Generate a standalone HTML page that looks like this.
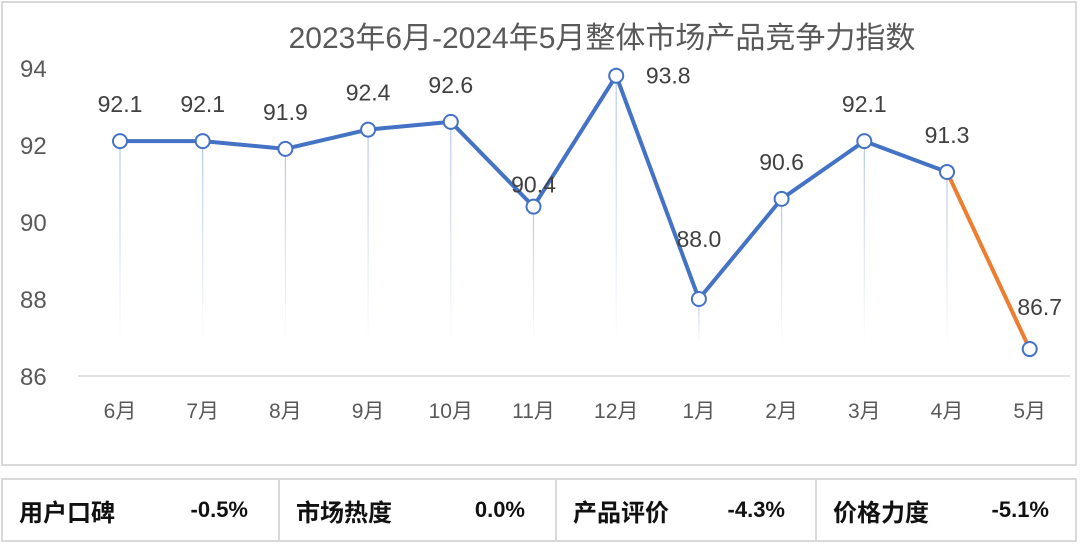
<!DOCTYPE html>
<html><head><meta charset="utf-8"><style>
body{margin:0;width:1080px;height:544px;background:#fff;overflow:hidden;font-family:"Liberation Sans","Noto Sans CJK SC",sans-serif}
#chart{position:absolute;left:1px;top:1px;width:1076px;height:465px;border:2px solid #d9d9d9;box-sizing:border-box}
#tbl{position:absolute;left:1px;top:478px;width:1076px;height:64px;border:2px solid #d9d9d9;box-sizing:border-box;display:flex}
.cell{flex:none;height:100%;border-right:2px solid #d9d9d9;box-sizing:border-box;display:flex;align-items:center;justify-content:space-between;padding:0 30px 0 16px;font-weight:bold;font-size:24px;color:#111}
.cell:last-child{border-right:none}
.v{font-size:22px}
</style></head><body>
<svg id="svg" width="1080" height="544" style="position:absolute;left:0;top:0">
<defs><linearGradient id="dg" x1="0" y1="0" x2="0" y2="1"><stop offset="0" stop-color="#b4c7e7"/><stop offset="1" stop-color="#b4c7e7" stop-opacity="0"/></linearGradient></defs>
</svg>
<div id="chart"></div>
<div id="tbl">
<div class="cell" style="width:277px"><span>用户口碑</span><span class="v">-0.5%</span></div>
<div class="cell" style="width:277px"><span>市场热度</span><span class="v">0.0%</span></div>
<div class="cell" style="width:260px"><span>产品评价</span><span class="v">-4.3%</span></div>
<div class="cell" style="width:262px"><span>价格力度</span><span class="v">-5.1%</span></div>
</div>
<script>
const categories=["6月","7月","8月","9月","10月","11月","12月","1月","2月","3月","4月","5月"];
const values=[92.1,92.1,91.9,92.4,92.6,90.4,93.8,88.0,90.6,92.1,91.3,86.7];
const yTicks=[86,88,90,92,94];
const labelDy=[-37,-37,-37,-37,-37,-22,0,-60,-37,-37,-37,-42];
const labelDx=[0,0,0,0,0,0,52,0,0,0,0,10];
const NS="http://www.w3.org/2000/svg";
const svg=document.getElementById('svg');
const x=i=>120+i*82.7;
const y=v=>376-(v-86)*38.5;
function mk(t,a){const e=document.createElementNS(NS,t);for(const k in a)e.setAttribute(k,a[k]);svg.appendChild(e);return e;}
const title=mk('text',{x:602,y:48,'text-anchor':'middle','font-size':30,fill:'#595959'});
title.textContent="2023年6月-2024年5月整体市场产品竞争力指数";


const ax=mk('line',{x1:78,x2:1070,y1:y(86),y2:y(86),stroke:'#d9d9d9','stroke-width':1.5});


yTicks.forEach(t=>{const e=mk('text',{x:20,y:y(t)+9,'font-size':24,fill:'#595959'});e.textContent=t;

});
categories.forEach((c,i)=>{const e=mk('text',{x:x(i),y:418,'text-anchor':'middle','font-size':21,fill:'#595959'});e.textContent=c;

});
values.forEach((v,i)=>{const d=mk('rect',{x:x(i)-0.6,y:y(v),width:1.2,height:Math.max(0,345-y(v)),fill:'url(#dg)'});

});
let pts=values.slice(0,11).map((v,i)=>x(i)+','+y(v)).join(' ');
const ln=mk('polyline',{points:pts,fill:'none',stroke:'#4472c4','stroke-width':4,'stroke-linejoin':'round'});


const seg=mk('line',{x1:x(10),y1:y(values[10]),x2:x(11),y2:y(values[11]),stroke:'#ed7d31','stroke-width':4});


values.forEach((v,i)=>{const c=mk('circle',{cx:x(i),cy:y(v),r:7,fill:'#fff',stroke:'#4472c4','stroke-width':2});


const t=mk('text',{x:x(i)+labelDx[i],y:y(v)+labelDy[i]+8,'text-anchor':'middle','font-size':23,fill:'#404040'});t.textContent=v.toFixed(1);

});
</script>
</body></html>
